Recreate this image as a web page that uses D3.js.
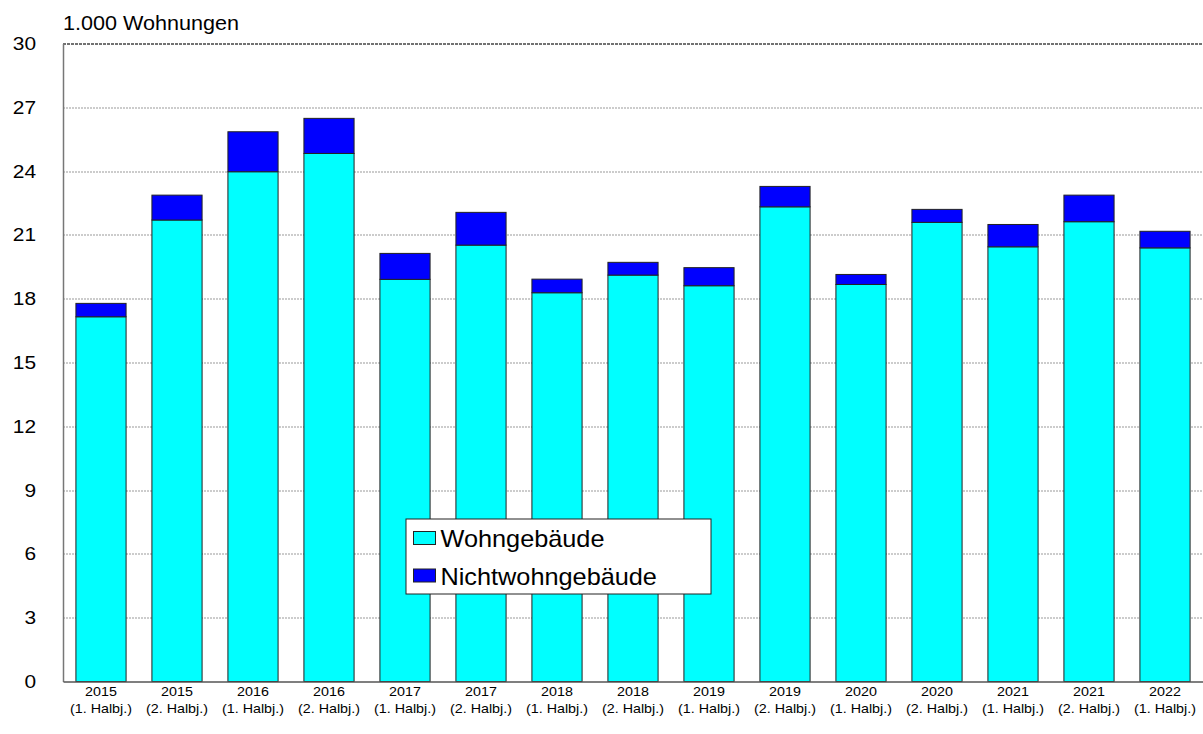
<!DOCTYPE html>
<html>
<head>
<meta charset="utf-8">
<script src="https://cdn.jsdelivr.net/npm/d3@7"></script>
<style>
  body { margin: 0; background: #fff; }
  svg { display: block; font-family: "Liberation Sans", Arial, sans-serif; }
</style>
</head>
<body>
<div id="chart"><svg width="1203" height="734"></svg></div>
<script>
// Data
let years = ["2015", "2015", "2016", "2016", "2017", "2017", "2018", "2018",
  "2019", "2019", "2020", "2020", "2021", "2021", "2022"];
let halves = ["(1. Halbj.)", "(2. Halbj.)", "(1. Halbj.)", "(2. Halbj.)", "(1. Halbj.)",
  "(2. Halbj.)", "(1. Halbj.)", "(2. Halbj.)", "(1. Halbj.)", "(2. Halbj.)",
  "(1. Halbj.)", "(2. Halbj.)", "(1. Halbj.)", "(2. Halbj.)", "(1. Halbj.)"];
let wohn = [17.15, 21.70, 23.97, 24.83, 18.91, 20.52, 18.28, 19.11,
  18.61, 22.32, 18.67, 21.59, 20.44, 21.62, 20.39];
let nichtwohn = [0.63, 1.17, 1.88, 1.65, 1.22, 1.54, 0.64, 0.60,
  0.85, 0.96, 0.47, 0.61, 1.05, 1.25, 0.78];
let yTicks = [0, 3, 6, 9, 12, 15, 18, 21, 24, 27, 30];
let seriesNames = ["Wohngebäude", "Nichtwohngebäude"];
let seriesColors = ["#00FFFF", "#0000FF"];

// Layout
let svg = d3.select("div#chart svg"),
  margin = { top: 43.5, right: 0, bottom: 52.5, left: 63 },
  width = svg.attr("width") - margin.left - margin.right,
  height = svg.attr("height") - margin.top - margin.bottom,
  g = svg.append("g").attr("transform", "translate(" + margin.left + "," + margin.top + ")");

// the original text is drawn a bit wide
let stretch = 1.1;

let keys = d3.range(years.length);
let x = d3.scaleBand().domain(keys).range([0, width]).paddingInner(0.34).paddingOuter(0.17);
let y = d3.scaleLinear().domain([0, 30]).range([height, 0]);

let rows = keys.map(i => ({ i: i, wohn: wohn[i], nichtwohn: nichtwohn[i] }));
let stacked = d3.stack().keys(["wohn", "nichtwohn"])(rows);

// Gridlines
g.append("g")
  .attr("class", "grid")
  .selectAll("line")
  .data(yTicks.filter(t => t > 0 && t < 30))
  .enter()
  .append("line")
    .attr("x1", 0)
    .attr("x2", width)
    .attr("y1", d => Math.round(y(d)) + 0.5)
    .attr("y2", d => Math.round(y(d)) + 0.5)
    .attr("stroke", "#999")
    .attr("stroke-dasharray", "2,1");

// Top frame line
g.append("line")
  .attr("x1", 0).attr("x2", width)
  .attr("y1", Math.round(y(30)) + 0.5).attr("y2", Math.round(y(30)) + 0.5)
  .attr("stroke", "#444")
  .attr("stroke-width", 1.5)
  .attr("stroke-dasharray", "3,1");

// Bars
g.append("g")
  .selectAll("g")
  .data(stacked)
  .enter()
  .append("g")
    .attr("fill", (d, k) => seriesColors[k])
  .selectAll("rect")
  .data(d => d)
  .enter()
  .append("rect")
    .attr("x", d => x(d.data.i))
    .attr("y", d => y(d[1]))
    .attr("width", x.bandwidth())
    .attr("height", d => y(d[0]) - y(d[1]))
    .attr("stroke", "#222")
    .attr("stroke-width", 1);

// Y axis
let yAxis = g.append("g")
  .attr("class", "axis axis_y")
  .call(d3.axisLeft(y).tickValues(yTicks).tickSize(0).tickPadding(24.5));
yAxis.select(".domain").attr("stroke", "#777").attr("stroke-width", 1.5);
yAxis.selectAll("text")
  .attr("transform", "scale(" + stretch + ",1)")
  .style("font-size", "19px")
  .style("fill", "#000")
  .attr("font-family", "Liberation Sans, Arial, sans-serif");

// X axis
let xAxis = g.append("g")
  .attr("class", "axis axis_x")
  .attr("transform", "translate(0," + height + ")")
  .call(d3.axisBottom(x).tickSize(0).tickFormat(""));
xAxis.select(".domain").attr("stroke", "#555").attr("stroke-width", 1.5);

let xLabels = g.append("g")
  .attr("class", "x-labels")
  .selectAll("text")
  .data(keys)
  .enter()
  .append("text")
    .attr("transform", d => "translate(" + (x(d) + x.bandwidth() / 2) + "," + (height + 14) + ") scale(" + stretch + ",1)")
    .style("font-size", "13px")
    .style("text-anchor", "middle");
xLabels.append("tspan")
  .attr("x", 0)
  .attr("dy", 0)
  .text(d => years[d]);
xLabels.append("tspan")
  .attr("x", 0)
  .attr("dy", 18)
  .text(d => halves[d]);

// Unit label
svg.append("text")
  .attr("transform", "translate(" + margin.left + ",30) scale(1.08,1)")
  .style("font-size", "20px")
  .text("1.000 Wohnungen");

// Legend
let legend = svg.append("g")
  .attr("class", "legend")
  .attr("transform", "translate(406,519)");
legend.append("rect")
  .attr("width", 305)
  .attr("height", 75)
  .attr("fill", "#fff")
  .attr("stroke", "#222");
let items = legend.selectAll("g.item")
  .data(seriesNames)
  .enter()
  .append("g")
    .attr("class", "item")
    .attr("transform", (d, k) => "translate(0," + (k * 37.5) + ")");
items.append("rect")
  .attr("x", 7.5)
  .attr("y", 12.5)
  .attr("width", 22)
  .attr("height", 13)
  .attr("fill", (d, k) => seriesColors[k])
  .attr("stroke", "#222");
items.append("text")
  .attr("transform", "translate(34.5,28) scale(1.1,1)")
  .style("font-size", "23px")
  .text(d => d);
</script>
</body>
</html>
